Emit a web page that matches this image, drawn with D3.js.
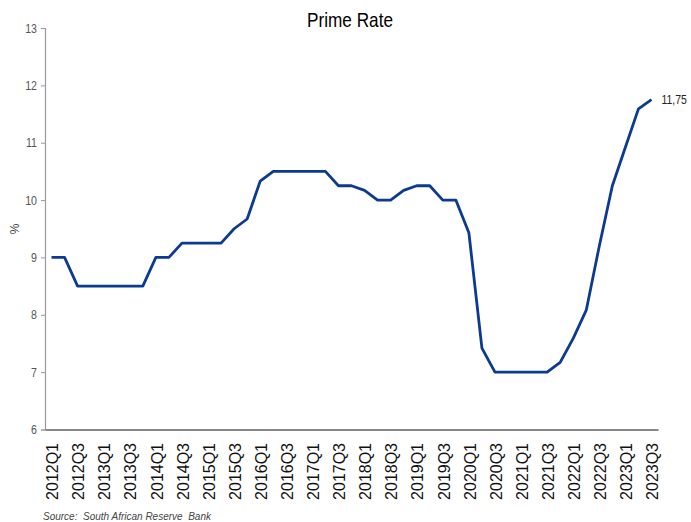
<!DOCTYPE html>
<html>
<head>
<meta charset="utf-8">
<script src="https://cdn.jsdelivr.net/npm/d3@7"></script>
<style>
  html, body { margin: 0; padding: 0; background: #fff; }
  svg { display: block; }
  text { font-family: Arial, "Liberation Sans", sans-serif; white-space: pre; }
</style>
</head>
<body>
<svg id="chart" width="691" height="522"></svg>
<script>
// Quarterly prime lending rate, 2012Q1 – 2023Q3
const quarters = [];
for (let y = 2012; y <= 2023; y++) {
  for (let q = 1; q <= 4; q++) {
    if (y === 2023 && q > 3) break;
    quarters.push(y + "Q" + q);
  }
}

const primeRate = [
  9.00, 9.00, 8.50, 8.50,
  8.50, 8.50, 8.50, 8.50,
  9.00, 9.00, 9.25, 9.25,
  9.25, 9.25, 9.50, 9.67,
  10.33, 10.50, 10.50, 10.50,
  10.50, 10.50, 10.25, 10.25,
  10.17, 10.00, 10.00, 10.17,
  10.25, 10.25, 10.00, 10.00,
  9.43, 7.42, 7.00, 7.00,
  7.00, 7.00, 7.00, 7.17,
  7.59, 8.08, 9.20, 10.25,
  10.92, 11.59, 11.75
];

const yTicks = [6, 7, 8, 9, 10, 11, 12, 13];
const xTickLabels = quarters.filter((d, i) => i % 2 === 0);
const lastLabel = "11,75";
const titleText = "Prime Rate";
const yAxisTitle = "%";
const sourceText = "Source:  South African Reserve  Bank";

const svg = d3.select("#chart");
const plot = { left: 45, right: 658, top: 28, bottom: 429.5 };

const x = d3.scaleBand()
  .domain(quarters)
  .range([plot.left, plot.right])
  .padding(0);
const cx = d => x(d) + x.bandwidth() / 2;

const y = d3.scaleLinear()
  .domain([6, 13])
  .range([plot.bottom, plot.top]);

// Title
svg.append("text")
  .attr("transform", `translate(350,27) scale(0.86,1)`)
  .attr("text-anchor", "middle")
  .attr("font-size", 20)
  .attr("fill", "#000")
  .text(titleText);

// Y axis
const yAxis = svg.append("g")
  .attr("transform", `translate(${plot.left},0)`)
  .call(d3.axisLeft(y).tickValues(yTicks).tickSize(4).tickPadding(0).tickFormat(d3.format("d")));
yAxis.select(".domain").attr("stroke", "#9a9a9a").attr("stroke-width", 1.2);
yAxis.selectAll(".tick line").attr("stroke", "#9a9a9a");
yAxis.selectAll(".tick text")
  .attr("x", null)
  .attr("transform", "translate(-8,0) scale(0.85,1)")
  .attr("font-size", 12.5)
  .attr("fill", "#555")
  .attr("font-family", "Arial, 'Liberation Sans', sans-serif");

// Y axis title
svg.append("text")
  .attr("transform", `translate(15,229) rotate(-90)`)
  .attr("text-anchor", "middle")
  .attr("dominant-baseline", "central")
  .attr("font-size", 12)
  .attr("fill", "#444")
  .text(yAxisTitle);

// X axis
const xAxis = svg.append("g")
  .attr("transform", `translate(0,${plot.bottom})`)
  .call(d3.axisBottom(x).tickValues([]).tickSize(0).tickSizeOuter(0));
xAxis.select(".domain").attr("stroke", "#888").attr("stroke-width", 2);

svg.append("g")
  .selectAll("text")
  .data(xTickLabels)
  .join("text")
  .attr("transform", d => `translate(${cx(d) + 1},443) rotate(-90) scale(1,1.08)`)
  .attr("text-anchor", "end")
  .attr("dominant-baseline", "central")
  .attr("font-size", 16)
  .attr("fill", "#111")
  .text(d => d);

// Rate line
const line = d3.line()
  .x((d, i) => cx(quarters[i]))
  .y(d => y(d));

svg.append("path")
  .datum(primeRate)
  .attr("fill", "none")
  .attr("stroke", "#0b3a8f")
  .attr("stroke-width", 2.8)
  .attr("stroke-linejoin", "round")
  .attr("d", line);

// Latest value label
const lastIdx = primeRate.length - 1;
svg.append("text")
  .attr("transform", `translate(${cx(quarters[lastIdx]) + 10},${y(primeRate[lastIdx])}) scale(0.84,1)`)
  .attr("dominant-baseline", "central")
  .attr("font-size", 12.5)
  .attr("fill", "#222")
  .text(lastLabel);

// Source note
svg.append("text")
  .attr("transform", `translate(43,520) scale(0.87,1)`)
  .attr("font-size", 11.5)
  .attr("font-style", "italic")
  .attr("fill", "#444")
  .text(sourceText);
</script>
</body>
</html>
